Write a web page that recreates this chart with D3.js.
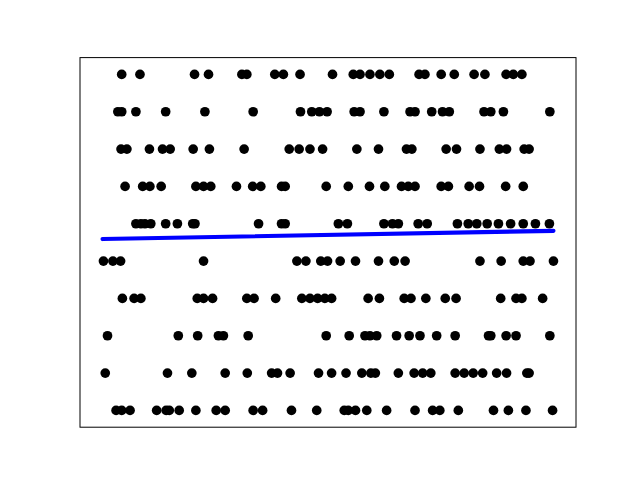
<!DOCTYPE html>
<html><head><meta charset="utf-8">
<script src="https://cdn.jsdelivr.net/npm/d3@7"></script>
<style>body{margin:0;background:#fff}</style>
</head><body>
<script>
// x positions of points for each row level (y = 0..9)
const row0 = [3.0,4.25,6.1,12.0,14.1,14.8,17.0,20.7,25.2,27.2,33.4,35.5,41.9,47.5,53.6,54.5,56.1,58.6,63.0,69.3,73.2,74.8,78.9,86.7,90.0,93.9,99.8];
const row1 = [0.6,14.4,19.8,27.2,32.1,37.5,38.8,41.6,47.9,50.8,54.0,57.5,59.5,60.5,65.6,69.1,71.0,72.8,78.2,80.2,82.2,84.3,87.4,89.6,94.1,94.6];
const row2 = [1.1,16.8,21.1,25.7,26.8,32.3,49.6,54.7,58.2,59.3,60.8,65.2,68.0,70.4,74.1,78.2,85.6,86.1,89.5,91.7,99.2];
const row3 = [4.4,7.0,8.5,21.0,22.4,24.4,32.0,33.6,38.4,44.2,46.0,47.7,49.3,50.8,58.9,61.4,66.9,68.4,71.7,76.0,78.4,88.3,91.7,93.0,97.6];
const row4 = [0.2,2.3,4.0,22.4,43.1,45.1,48.4,49.9,52.7,56.1,61.2,64.7,67.1,83.7,88.4,93.3,94.8,100.0];
const row5 = [7.4,8.5,9.4,10.7,14.0,16.6,20.0,20.5,34.6,39.7,40.5,52.3,54.3,62.4,64.3,65.6,70.0,72.0,78.7,81.1,83.0,85.3,87.8,90.5,93.3,96.0,99.1];
const row6 = [5.0,8.9,10.5,13.0,20.7,22.4,24.0,29.7,33.3,35.1,39.7,40.5,49.6,54.5,59.2,62.6,66.3,67.8,69.3,75.1,76.7,81.3,83.6,89.4,93.3];
const row7 = [4.1,5.4,10.4,13.3,15.0,20.1,23.7,31.4,41.4,43.6,46.0,48.8,56.4,61.2,67.4,68.6,76.2,78.5,83.7,88.0,89.6,93.5,94.6];
const row8 = [3.4,4.25,7.4,14.0,22.7,33.4,43.9,46.4,48.1,49.8,55.8,57.1,62.4,68.2,69.3,73.0,75.4,76.9,84.6,86.1,88.9,99.2];
const row9 = [4.25,8.3,20.4,23.5,30.9,32.0,38.2,40.1,43.8,51.0,55.6,57.1,59.3,61.5,63.6,70.2,71.5,75.1,78.0,82.4,84.8,89.5,91.1,93.0];
const rows = [row0,row1,row2,row3,row4,row5,row6,row7,row8,row9];
// fitted line endpoints
const lineX = [0, 100];
const lineY = [4.59, 4.81];

const W = 640, H = 480;
const mLeft = 80, mRight = 576, mTop = 57.6, mBottom = 427.2;
const svg = d3.select("body").append("svg").attr("width", W).attr("height", H);
const x = d3.scaleLinear().domain([-5, 105]).range([mLeft, mRight]);
const y = d3.scaleLinear().domain([-0.45, 9.45]).range([mBottom, mTop]);

const pts = [];
rows.forEach((r, i) => r.forEach(v => pts.push({x: v, y: i})));

const g = svg.append("g");
g.selectAll("circle").data(pts).enter().append("circle")
  .attr("cx", d => x(d.x)).attr("cy", d => y(d.y)).attr("r", 4.85)
  .attr("fill", "#000");

const line = d3.line().x(d => x(d[0])).y(d => y(d[1]));
g.append("path").datum(lineX.map((v, i) => [v, lineY[i]]))
  .attr("d", line).attr("fill", "none").attr("stroke", "#0000ff")
  .attr("stroke-width", 4.17).attr("stroke-linecap", "round");

svg.append("rect").attr("x", mLeft).attr("y", mTop)
  .attr("width", mRight - mLeft).attr("height", mBottom - mTop)
  .attr("fill", "none").attr("stroke", "#000").attr("stroke-width", 1);
</script>
</body></html>
